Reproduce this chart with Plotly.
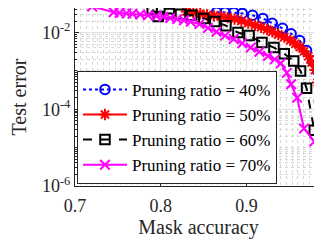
import plotly.graph_objects as go

# ---- data ----
x40 = [0.865, 0.875, 0.885, 0.895, 0.907, 0.919, 0.930, 0.942, 0.952, 0.962,
       0.970, 0.977, 0.983, 0.985, 0.987, 0.990]
y40 = [0.0339, 0.0339, 0.0331, 0.0316, 0.0282, 0.0234, 0.0174, 0.0129, 0.00933, 0.00617,
       0.00339, 0.00182, 0.00100, 0.000158, 8.9e-5, 2.0e-5]

x50 = [0.830, 0.838, 0.846, 0.854, 0.862, 0.870, 0.878, 0.886, 0.894, 0.902,
       0.910, 0.917, 0.924, 0.930, 0.937, 0.944, 0.951, 0.957, 0.962, 0.967,
       0.972, 0.976, 0.980, 0.983, 0.985, 0.987, 0.990]
y50 = [0.0355, 0.0331, 0.0309, 0.0288, 0.0275, 0.0263, 0.0245, 0.0224, 0.0200, 0.0178,
       0.0155, 0.0138, 0.0120, 0.0105, 0.00891, 0.00759, 0.00631, 0.00513, 0.00417, 0.00324,
       0.00240, 0.00166, 0.00105, 0.000501, 0.000178, 6.31e-5, 1.0e-5]

x60 = [0.790, 0.797, 0.810, 0.823, 0.836, 0.850, 0.863, 0.876, 0.890, 0.903,
       0.918, 0.932, 0.944, 0.955, 0.963, 0.970, 0.979, 0.987, 0.995]
y60 = [0.0398, 0.0263, 0.0316, 0.0302, 0.0282, 0.0234, 0.0195, 0.0151, 0.0100, 0.00832,
       0.00550, 0.00407, 0.00282, 0.00182, 0.00100, 0.000355, 2.82e-5, 7.94e-6, 2.51e-6]

x70 = [0.720, 0.745, 0.752, 0.760, 0.767, 0.776, 0.785, 0.795, 0.803, 0.811,
       0.819, 0.827, 0.835, 0.845, 0.855, 0.865, 0.875, 0.885, 0.895, 0.905,
       0.915, 0.925, 0.933, 0.940, 0.947, 0.952, 0.959, 0.967, 0.979, 0.987, 0.995]
y70 = [0.0479, 0.0339, 0.0324, 0.0316, 0.0309, 0.0295, 0.0282, 0.0269, 0.0257, 0.0240,
       0.0224, 0.0209, 0.0191, 0.0166, 0.0132, 0.0105, 0.00832, 0.00676, 0.00525, 0.00407,
       0.00316, 0.00245, 0.00200, 0.00158, 0.000891, 0.000447, 0.000200, 3.16e-5, 1.45e-5,
       5.75e-6, 2.0e-6]

names = ["Pruning ratio = 40%", "Pruning ratio = 50%",
         "Pruning ratio = 60%", "Pruning ratio = 70%"]

x_ticks = [0.7, 0.8, 0.9]
x_ticklabels = ["0.7", "0.8", "0.9"]
y_ticks = [1e-6, 1e-4, 1e-2]
y_ticklabels = ["10<sup>-6</sup>", "10<sup>-4</sup>", "10<sup>-2</sup>"]

# minor log grid positions (1..9 x 10^k)
y_minor = [m * 10.0 ** e for e in range(-6, -1) for m in range(1, 10)]

FONT = "Liberation Serif"

fig = go.Figure()
styles = [
    dict(color="#0000ff", dash="dot", symbol="circle-open"),
    dict(color="#ff0000", dash="solid", symbol="asterisk-open"),
    dict(color="#000000", dash="dash", symbol="square-open"),
    dict(color="#ff00ff", dash="solid", symbol="x-thin-open"),
]
for xs, ys, nm, st in zip([x40, x50, x60, x70], [y40, y50, y60, y70], names, styles):
    fig.add_trace(go.Scatter(
        x=xs, y=ys, name=nm, mode="lines+markers",
        line=dict(color=st["color"], width=2, dash=st["dash"]),
        marker=dict(symbol=st["symbol"], size=9.5,
                    line=dict(color=st["color"], width=2), color=st["color"]),
        cliponaxis=True,
    ))

# page body has an 8px default margin, so the figure is sized to fit the window
fig.update_layout(
    width=314, height=237,
    margin=dict(l=67, r=0, t=0, b=59, autoexpand=False),
    paper_bgcolor="white", plot_bgcolor="white",
    font=dict(family=FONT, size=18, color="#262626"),
    showlegend=True,
    legend=dict(
        x=0.008, y=0.012, xanchor="left", yanchor="bottom",
        bgcolor="white", bordercolor="#262626", borderwidth=1,
        font=dict(family=FONT, size=17, color="#000000"),
        tracegroupgap=0, itemwidth=44,
    ),
)

fig.update_xaxes(
    range=[0.7, 0.988], tickvals=x_ticks, ticktext=x_ticklabels,
    ticks="inside", ticklen=4, tickcolor="#262626",
    showline=True, linecolor="#262626", linewidth=1, mirror=True,
    showgrid=True, gridcolor="#e0e0e0", gridwidth=1,
    minor=dict(dtick=0.1 / 15, tick0=0.7, showgrid=True, griddash="dot",
               gridcolor="#d8d8d8", gridwidth=1),
    zeroline=False, automargin=False, ticklabelstandoff=3,
    title=dict(text="Mask accuracy", font=dict(family=FONT, size=20), standoff=4),
    tickfont=dict(family=FONT, size=18),
)
fig.update_yaxes(
    type="log", range=[-6, -1.36],
    tickvals=y_ticks, ticktext=y_ticklabels,
    ticks="inside", ticklen=4, tickcolor="#262626",
    showline=True, linecolor="#262626", linewidth=1, mirror=False,
    showgrid=True, gridcolor="#e0e0e0", gridwidth=1,
    minor=dict(tickvals=y_minor, ticks="inside", ticklen=2, tickcolor="#262626",
               showgrid=True, griddash="dot", gridcolor="#d8d8d8", gridwidth=1),
    zeroline=False, automargin=False,
    title=dict(text="Test error", font=dict(family=FONT, size=20), standoff=10),
    tickfont=dict(family=FONT, size=18),
)

fig.write_html("out.html")
